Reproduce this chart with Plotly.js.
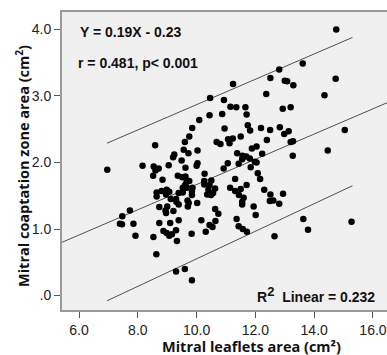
<!DOCTYPE html>
<html>
<head>
<meta charset="utf-8">
<script src="https://cdn.plot.ly/plotly-3.0.1.min.js"></script>
<style>
html,body{margin:0;padding:0;overflow:hidden;background:#fff;width:387px;height:355px;}
#chart{width:440px;height:355px;}
</style>
</head>
<body>
<div id="chart"></div>
<script>
// Mitral leaflets area (cm2)
var leafletArea = [14.75,14.73,13.61,12.81,12.51,11.24,13.00,13.08,13.29,14.35,
  12.37,10.46,10.93,11.15,11.35,11.66,12.93,13.20,10.44,10.87,
  11.70,10.09,9.85,10.95,11.74,11.82,12.19,12.83,13.13,12.98,
  12.50,15.04,9.75,9.60,11.07,11.23,11.50,12.39,13.20,13.28,
  10.68,10.81,11.12,8.59,9.56,10.03,9.72,11.38,11.56,11.88,
  12.04,12.23,14.46,13.27,9.24,9.20,9.49,11.69,11.81,11.98,
  11.55,8.16,8.54,8.71,8.60,9.05,10.03,10.00,9.62,11.06,
  10.92,11.43,11.84,12.04,6.96,10.27,10.50,11.31,12.08,12.16,
  8.52,8.84,9.36,9.51,9.62,9.66,9.75,10.26,10.63,10.44,
  10.26,9.61,9.53,9.67,9.86,10.40,10.56,10.36,10.49,8.64,
  8.81,8.98,9.07,8.96,8.64,9.12,9.30,9.39,9.53,9.84,
  9.84,11.14,11.31,11.50,11.70,11.44,11.60,11.55,12.51,12.94,
  12.30,12.49,12.61,12.81,11.55,9.31,9.39,9.69,9.73,10.02,
  9.70,8.73,9.00,7.73,7.47,8.94,9.21,8.96,10.63,10.74,
  11.94,12.01,10.16,10.64,10.44,10.54,9.39,9.10,8.73,7.39,
  7.46,7.85,11.36,11.43,11.57,11.71,13.63,15.27,13.79,8.87,
  8.98,9.07,9.16,9.30,9.83,10.31,7.92,8.53,9.33,12.65,
  8.63,9.60,9.30,9.84];
// Mitral coaptation zone area (cm2)
var coaptationArea = [4.00,3.26,3.49,3.40,3.27,3.18,3.23,3.22,3.16,3.01,
  3.03,2.97,2.94,2.84,2.83,2.83,2.81,2.83,2.71,2.73,
  2.72,2.64,2.52,2.51,2.56,2.48,2.52,2.53,2.47,2.43,
  2.49,2.49,2.39,2.31,2.35,2.36,2.39,2.34,2.31,2.32,
  2.31,2.28,2.29,2.26,2.19,2.18,2.14,2.14,2.10,2.21,
  2.24,2.13,2.18,2.10,2.12,2.08,2.03,2.09,2.06,2.01,
  2.05,1.95,1.94,1.91,1.88,1.96,1.99,1.95,1.92,1.99,
  1.91,1.98,1.93,2.00,1.89,1.83,1.73,1.75,1.84,1.75,
  1.80,1.74,1.80,1.78,1.79,1.71,1.72,1.72,1.61,1.66,
  1.67,1.66,1.62,1.62,1.62,1.59,1.54,1.52,1.51,1.55,
  1.57,1.59,1.56,1.52,1.49,1.45,1.45,1.54,1.55,1.56,
  1.51,1.62,1.57,1.60,1.66,1.51,1.47,1.41,1.52,1.53,
  1.59,1.42,1.43,1.38,1.37,1.41,1.37,1.43,1.39,1.39,
  1.34,1.33,1.34,1.28,1.19,1.28,1.27,1.24,1.30,1.23,
  1.34,1.21,1.13,1.12,1.06,1.03,1.13,1.09,1.09,1.08,
  1.07,1.08,1.15,1.04,1.00,0.96,1.15,1.11,0.99,0.97,
  0.94,0.90,0.92,0.98,0.93,0.96,0.90,0.88,0.82,0.89,
  0.62,0.40,0.36,0.23];
// Linear fit line and its upper / lower limit lines
var fitX = [5.42, 18.28];
var fitY = [0.80, 3.24];
var upperX = [6.95, 15.30];
var upperY = [2.29, 3.88];
var lowerX = [6.95, 15.30];
var lowerY = [-0.08, 1.65];
var xTicks = [6, 8, 10, 12, 14, 16, 18];
var xTickText = ['6.0','8.0','10.0','12.0','14.0','16.0','18.0'];
var yTicks = [0, 1, 2, 3, 4];
var yTickText = ['.0','1.0','2.0','3.0','4.0'];

var lineStyle = {color:'#505050', width:1};
var data = [
  {x:fitX, y:fitY, mode:'lines', line:lineStyle, hoverinfo:'skip'},
  {x:upperX, y:upperY, mode:'lines', line:lineStyle, hoverinfo:'skip'},
  {x:lowerX, y:lowerY, mode:'lines', line:lineStyle, hoverinfo:'skip'},
  {x:leafletArea, y:coaptationArea, mode:'markers', type:'scatter',
   marker:{color:'#000', size:6.5, line:{width:0}}}
];
var tickFont = {family:'Liberation Sans, Arial, sans-serif', size:14, color:'#222'};
var titleFont = {family:'Open Sans, sans-serif', size:14.5, color:'#111', weight:'bold'};
var annFont = {family:'Liberation Sans, Arial, sans-serif', size:14, color:'#111', weight:'bold'};
var layout = {
  width:440, height:355,
  margin:{l:62, r:0, t:12, b:45},
  paper_bgcolor:'#fff', plot_bgcolor:'#f0f0f0',
  showlegend:false,
  xaxis:{range:[5.42,18.28], tickvals:xTicks, ticktext:xTickText, ticks:'outside', ticklen:6,
    tickcolor:'#555', tickwidth:1, showgrid:false, zeroline:false, showline:true, linecolor:'#999',
    linewidth:2, mirror:true, tickfont:tickFont},
  yaxis:{range:[-0.218,4.263], tickvals:yTicks, ticktext:yTickText, ticks:'outside', ticklen:6,
    tickcolor:'#555', tickwidth:1, showgrid:false, zeroline:false, showline:true, linecolor:'#999',
    linewidth:2, mirror:true, tickfont:tickFont},
  annotations:[
    {xref:'paper', yref:'paper', x:0.5, y:-(346-310)/298, xanchor:'center', yanchor:'middle',
     text:'Mitral leaflets area (cm²)', showarrow:false, font:titleFont},
    {xref:'paper', yref:'paper', x:-(62-22)/378, y:1-(166-12)/298, xanchor:'center', yanchor:'middle',
     textangle:-90, text:'Mitral coaptation zone area (cm<sup>2</sup>)', showarrow:false, font:titleFont},
    {xref:'paper', yref:'paper', x:(78-62)/378, y:1-(32-12)/298, xanchor:'left', yanchor:'middle',
     text:'Y = 0.19X - 0.23', showarrow:false, font:annFont},
    {xref:'paper', yref:'paper', x:(76-62)/378, y:1-(63-12)/298, xanchor:'left', yanchor:'middle',
     text:'r = 0.481, p< 0.001', showarrow:false, font:annFont},
    {xref:'paper', yref:'paper', x:(377-62)/378, y:1-(294-12)/298, xanchor:'right', yanchor:'middle',
     text:'R<sup><span style="font-size:13px">2</span></sup>  Linear = 0.232', showarrow:false, font:annFont}
  ]
};
Plotly.newPlot('chart', data, layout, {staticPlot:true, displayModeBar:false});
</script>
</body>
</html>
